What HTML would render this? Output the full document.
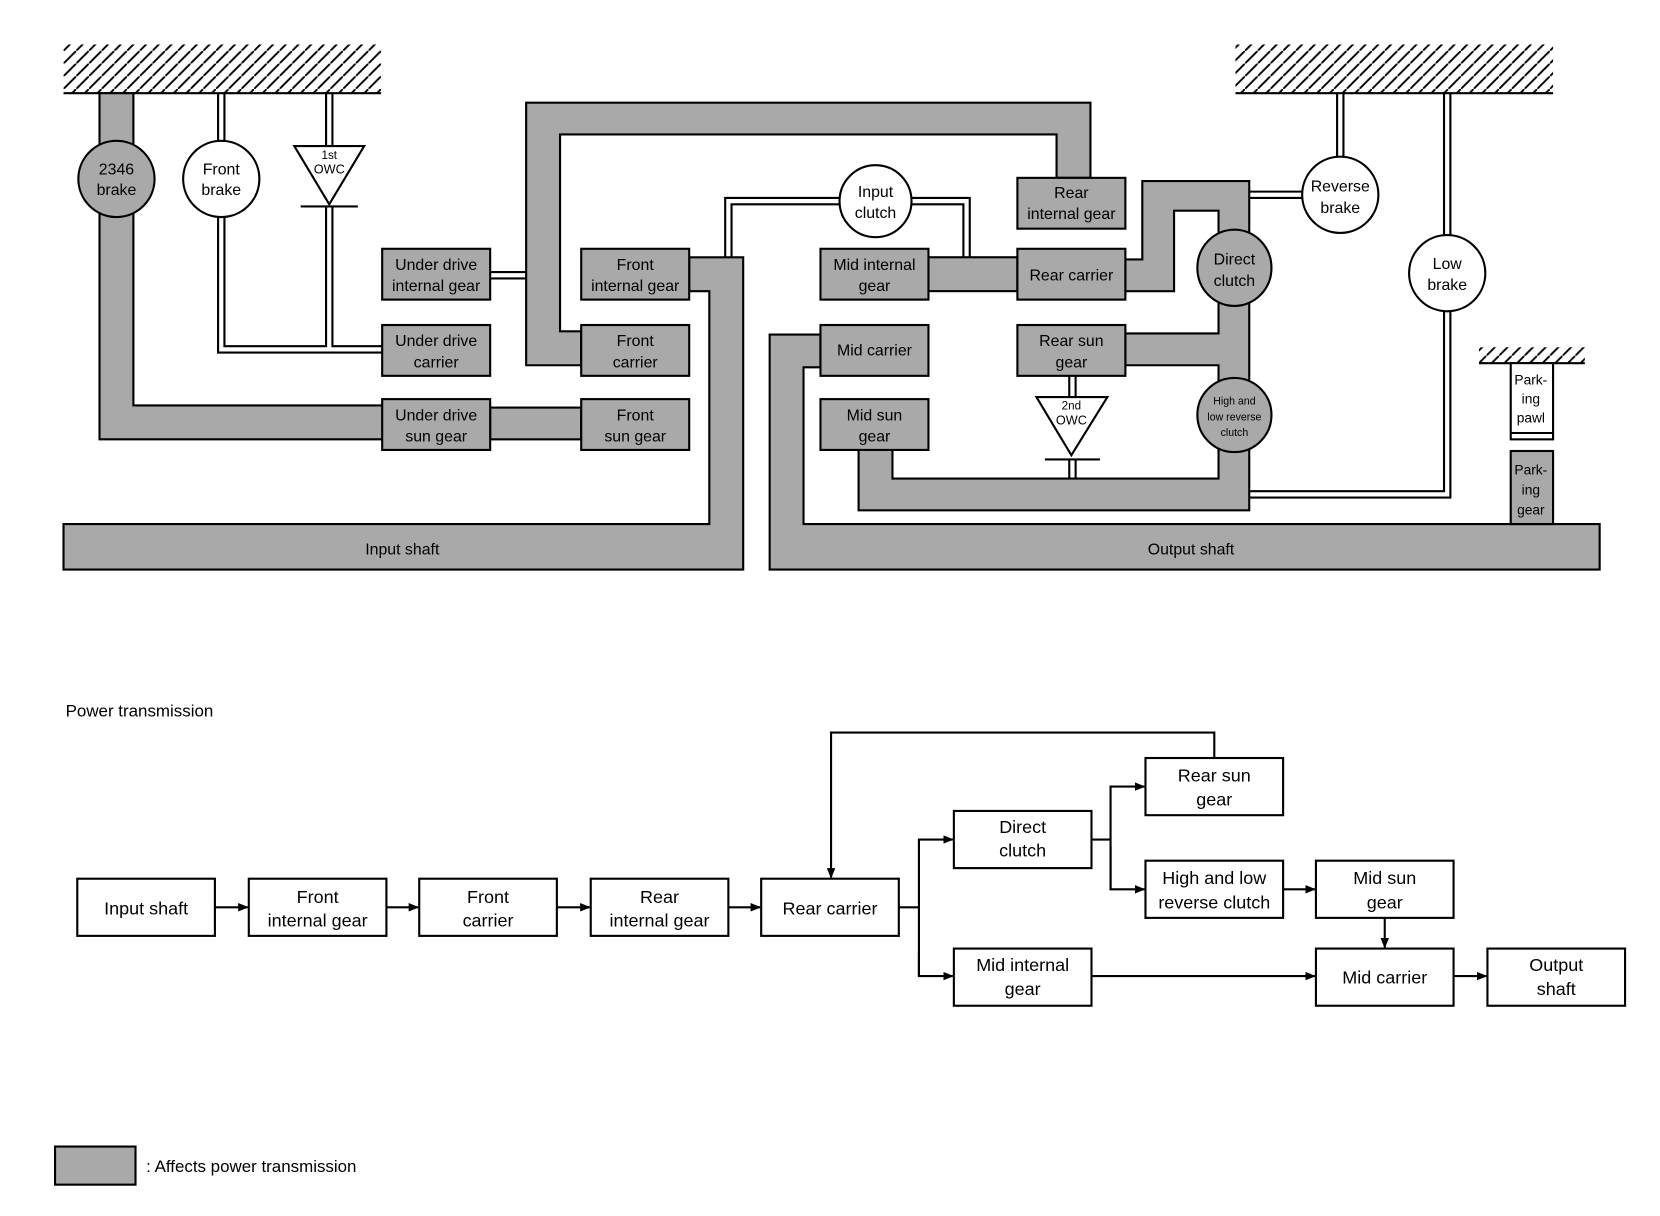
<!DOCTYPE html>
<html><head><meta charset="utf-8"><style>
html,body{margin:0;padding:0;background:#fff;}
svg{display:block;}
text{font-family:"Liberation Sans",sans-serif;font-size:15px;fill:#000;text-anchor:middle;}
.s{fill:#a9a9a9;stroke:#000;stroke-width:2;}
.w{fill:#fff;stroke:#000;stroke-width:2;}
.l{stroke:#000;stroke-width:2;fill:none;}
.fb{fill:#fff;stroke:#000;stroke-width:2;}
.ft{font-size:17px;}
</style></head><body>
<svg width="1660" height="1216" viewBox="0 0 1568 1148.6" xmlns="http://www.w3.org/2000/svg">
<defs>
<pattern id="h" width="12" height="12" patternUnits="userSpaceOnUse">
<line x1="-1" y1="13" x2="13" y2="-1" stroke="#000" stroke-width="1.8"/>
</pattern>
<marker id="a" markerWidth="10" markerHeight="8" refX="9" refY="4" orient="auto" markerUnits="userSpaceOnUse">
<path d="M0,0 L10,4 L0,8 z" fill="#000"/></marker>
</defs>

<rect x="60" y="42" width="300" height="46" fill="url(#h)"/>
<line x1="60" y1="88" x2="360" y2="88" class="l"/>
<rect x="1167" y="42" width="300" height="46" fill="url(#h)"/>
<line x1="1167" y1="88" x2="1467" y2="88" class="l"/>
<rect x="1397" y="328" width="100" height="15" fill="url(#h)"/>
<line x1="1397" y1="343" x2="1497" y2="343" class="l"/>

<path class="s" d="M94,88 L126,88 L126,383 L362,383 L362,415 L94,415 Z"/>
<rect class="s" x="463" y="385" width="86" height="30"/>
<path class="s" d="M497,97 L1030,97 L1030,168 L998,168 L998,127 L529,127 L529,313 L549,313 L549,345 L497,345 Z"/>
<path class="s" d="M651,243 L702,243 L702,538 L60,538 L60,495 L670,495 L670,275 L651,275 Z"/>
<path class="s" d="M775,316 L775,347 L759,347 L759,495 L1511,495 L1511,538 L727,538 L727,316 Z"/>
<rect class="s" x="877" y="243" width="84" height="32"/>
<path class="s" d="M1063,245 L1079,245 L1079,171 L1180,171 L1180,482 L811,482 L811,425 L843,425 L843,452 L1151,452 L1151,345 L1063,345 L1063,315 L1151,315 L1151,199 L1109,199 L1109,275 L1063,275 Z"/>

<g class="l" stroke-width="1.6">
<line x1="206" y1="88" x2="206" y2="133"/><line x1="212" y1="88" x2="212" y2="133"/>
<polyline points="206,205 206,333 361,333"/>
<polyline points="212,205 212,327 308,327 308,195"/>
<line x1="308" y1="88" x2="308" y2="138"/><line x1="314" y1="88" x2="314" y2="138"/>
<polyline points="314,195 314,327 361,327"/>
<line x1="463" y1="257" x2="497" y2="257"/><line x1="463" y1="263" x2="497" y2="263"/>
<polyline points="793,187 685,187 685,243"/>
<polyline points="793,193 691,193 691,243"/>
<polyline points="861,187 916,187 916,243"/>
<polyline points="861,193 910,193 910,243"/>
<line x1="1010" y1="355" x2="1010" y2="375"/><line x1="1016" y1="355" x2="1016" y2="375"/>
<line x1="1010" y1="434" x2="1010" y2="452"/><line x1="1016" y1="434" x2="1016" y2="452"/>
<line x1="1263" y1="88" x2="1263" y2="148"/><line x1="1269" y1="88" x2="1269" y2="148"/>
<line x1="1180" y1="181" x2="1230" y2="181"/><line x1="1180" y1="187" x2="1230" y2="187"/>
<line x1="1364" y1="88" x2="1364" y2="222"/><line x1="1370" y1="88" x2="1370" y2="222"/>
<polyline points="1364,294 1364,464 1180,464"/>
<polyline points="1370,294 1370,470 1180,470"/>
</g>

<ellipse class="s" cx="110" cy="169" rx="36" ry="36"/>
<text x="110" y="165">2346</text><text x="110" y="184">brake</text>
<ellipse class="w" cx="209" cy="169" rx="36" ry="36"/>
<text x="209" y="165">Front</text><text x="209" y="184">brake</text>
<path class="w" d="M278,138 L344,138 L311,193 Z"/>
<line x1="284" y1="195" x2="338" y2="195" class="l"/>
<text x="311" y="150" style="font-size:11px">1st</text><text x="311" y="164" style="font-size:12px">OWC</text>

<g>
<rect class="s" x="361" y="235" width="102" height="48"/><text x="412" y="255">Under drive</text><text x="412" y="275">internal gear</text>
<rect class="s" x="361" y="307" width="102" height="48"/><text x="412" y="327">Under drive</text><text x="412" y="347">carrier</text>
<rect class="s" x="361" y="377" width="102" height="48"/><text x="412" y="397">Under drive</text><text x="412" y="417">sun gear</text>
<rect class="s" x="549" y="235" width="102" height="48"/><text x="600" y="255">Front</text><text x="600" y="275">internal gear</text>
<rect class="s" x="549" y="307" width="102" height="48"/><text x="600" y="327">Front</text><text x="600" y="347">carrier</text>
<rect class="s" x="549" y="377" width="102" height="48"/><text x="600" y="397">Front</text><text x="600" y="417">sun gear</text>
<rect class="s" x="775" y="235" width="102" height="48"/><text x="826" y="255">Mid internal</text><text x="826" y="275">gear</text>
<rect class="s" x="775" y="307" width="102" height="48"/><text x="826" y="336">Mid carrier</text>
<rect class="s" x="775" y="377" width="102" height="48"/><text x="826" y="397">Mid sun</text><text x="826" y="417">gear</text>
<rect class="s" x="961" y="168" width="102" height="48"/><text x="1012" y="187">Rear</text><text x="1012" y="207">internal gear</text>
<rect class="s" x="961" y="235" width="102" height="48"/><text x="1012" y="265">Rear carrier</text>
<rect class="s" x="961" y="307" width="102" height="48"/><text x="1012" y="327">Rear sun</text><text x="1012" y="347">gear</text>
</g>
<text x="380" y="524">Input shaft</text>
<text x="1125" y="524">Output shaft</text>

<ellipse class="w" cx="827" cy="190" rx="34" ry="34"/>
<text x="827" y="186">Input</text><text x="827" y="206">clutch</text>
<ellipse class="s" cx="1166" cy="253" rx="35" ry="36"/>
<text x="1166" y="250">Direct</text><text x="1166" y="270">clutch</text>
<ellipse class="s" cx="1166" cy="392" rx="35" ry="35"/>
<text x="1166" y="382" style="font-size:10px">High and</text><text x="1166" y="397" style="font-size:10px">low reverse</text><text x="1166" y="412" style="font-size:10px">clutch</text>
<path class="w" d="M979,375 L1046,375 L1012,430 Z"/>
<line x1="987" y1="434" x2="1039" y2="434" class="l"/>
<text x="1012" y="387" style="font-size:11px">2nd</text><text x="1012" y="401" style="font-size:12px">OWC</text>
<ellipse class="w" cx="1266" cy="184" rx="36" ry="36"/>
<text x="1266" y="181">Reverse</text><text x="1266" y="201">brake</text>
<ellipse class="w" cx="1367" cy="258" rx="36" ry="36"/>
<text x="1367" y="254">Low</text><text x="1367" y="274">brake</text>

<rect class="w" x="1427" y="343" width="40" height="72"/>
<line x1="1427" y1="409" x2="1467" y2="409" class="l"/>
<text x="1446" y="363" style="font-size:13px">Park-</text><text x="1446" y="381" style="font-size:13px">ing</text><text x="1446" y="399" style="font-size:13px">pawl</text>
<rect class="s" x="1427" y="426" width="40" height="69"/>
<text x="1446" y="448" style="font-size:13px">Park-</text><text x="1446" y="467" style="font-size:13px">ing</text><text x="1446" y="486" style="font-size:13px">gear</text>

<text x="62" y="677" style="text-anchor:start;font-size:16px">Power transmission</text>
<g class="ft">
<rect class="fb" x="73" y="830" width="130" height="54"/><text class="ft" x="138" y="864">Input shaft</text>
<rect class="fb" x="235" y="830" width="130" height="54"/><text class="ft" x="300" y="853">Front</text><text class="ft" x="300" y="875">internal gear</text>
<rect class="fb" x="396" y="830" width="130" height="54"/><text class="ft" x="461" y="853">Front</text><text class="ft" x="461" y="875">carrier</text>
<rect class="fb" x="558" y="830" width="130" height="54"/><text class="ft" x="623" y="853">Rear</text><text class="ft" x="623" y="875">internal gear</text>
<rect class="fb" x="719" y="830" width="130" height="54"/><text class="ft" x="784" y="864">Rear carrier</text>
<rect class="fb" x="901" y="766" width="130" height="54"/><text class="ft" x="966" y="787">Direct</text><text class="ft" x="966" y="809">clutch</text>
<rect class="fb" x="901" y="896" width="130" height="54"/><text class="ft" x="966" y="917">Mid internal</text><text class="ft" x="966" y="940">gear</text>
<rect class="fb" x="1082" y="716" width="130" height="54"/><text class="ft" x="1147" y="738">Rear sun</text><text class="ft" x="1147" y="761">gear</text>
<rect class="fb" x="1082" y="813" width="130" height="54"/><text class="ft" x="1147" y="835">High and low</text><text class="ft" x="1147" y="858">reverse clutch</text>
<rect class="fb" x="1243" y="813" width="130" height="54"/><text class="ft" x="1308" y="835">Mid sun</text><text class="ft" x="1308" y="858">gear</text>
<rect class="fb" x="1243" y="896" width="130" height="54"/><text class="ft" x="1308" y="929">Mid carrier</text>
<rect class="fb" x="1405" y="896" width="130" height="54"/><text class="ft" x="1470" y="917">Output</text><text class="ft" x="1470" y="940">shaft</text>
</g>
<g class="l" stroke-width="2">
<line x1="203" y1="857" x2="234" y2="857" marker-end="url(#a)"/>
<line x1="365" y1="857" x2="395" y2="857" marker-end="url(#a)"/>
<line x1="526" y1="857" x2="557" y2="857" marker-end="url(#a)"/>
<line x1="688" y1="857" x2="718" y2="857" marker-end="url(#a)"/>
<polyline points="849,857 868,857"/>
<polyline points="868,922 868,793 900,793" marker-end="url(#a)"/>
<polyline points="868,900 868,922 900,922" marker-end="url(#a)"/>
<polyline points="1031,793 1049,793"/>
<polyline points="1049,840 1049,743 1081,743" marker-end="url(#a)"/>
<polyline points="1049,800 1049,840 1081,840" marker-end="url(#a)"/>
<polyline points="1147,716 1147,692 785,692 785,829" marker-end="url(#a)"/>
<line x1="1212" y1="840" x2="1242" y2="840" marker-end="url(#a)"/>
<line x1="1308" y1="867" x2="1308" y2="895" marker-end="url(#a)"/>
<line x1="1031" y1="922" x2="1242" y2="922" marker-end="url(#a)"/>
<line x1="1373" y1="922" x2="1404" y2="922" marker-end="url(#a)"/>
</g>

<rect class="s" x="52" y="1083" width="76" height="36" stroke-width="1"/>
<text x="138" y="1107" style="text-anchor:start;font-size:16px">: Affects power transmission</text>
</svg>
</body></html>
